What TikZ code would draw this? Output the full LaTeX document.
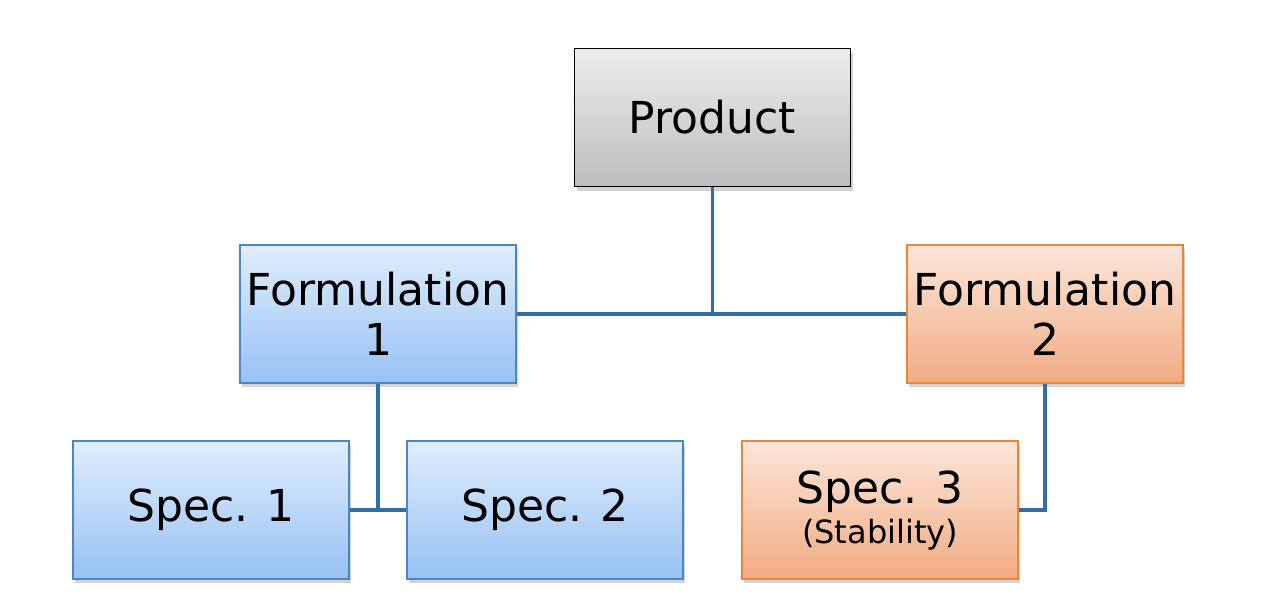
\documentclass[tikz,border=0pt]{standalone}
\usepackage{fontspec}
\setmainfont{DejaVu Sans}
\usetikzlibrary{shadows}
\definecolor{linkblue}{HTML}{2F6EA8}
\definecolor{graytop}{HTML}{EDEDED}
\definecolor{graybot}{HTML}{BDBDBD}
\definecolor{bluetop}{HTML}{E0EDFC}
\definecolor{bluebot}{HTML}{97C1F4}
\definecolor{blueedge}{HTML}{4A86C0}
\definecolor{orgtop}{HTML}{FCE6DA}
\definecolor{orgbot}{HTML}{F1AB83}
\definecolor{orgedge}{HTML}{E8873A}
\tikzset{
  x=1pt,y=-1pt,
  box/.style={minimum width=276pt,minimum height=138pt,inner sep=0pt,align=center,
    font=\fontsize{44}{50}\selectfont,
    drop shadow={shadow xshift=2pt,shadow yshift=-4pt,opacity=0.35}},
  graybox/.style={box,draw=black,line width=1.8pt,top color=graytop,bottom color=graybot},
  bluebox/.style={box,draw=blueedge,line width=1.4pt,top color=bluetop,bottom color=bluebot},
  orgbox/.style={box,draw=orgedge,line width=1.4pt,top color=orgtop,bottom color=orgbot},
  link/.style={draw=linkblue,line width=3.6pt}
}
\begin{document}
\begin{tikzpicture}
\useasboundingbox (0,0) rectangle (1261,613);
\node[graybox] (prod) at (712.5,117.5) {Product};
\node[bluebox] (f1) at (378,314) {Formulation\\1};
\node[orgbox] (f2) at (1045,314) {Formulation\\2};
\node[bluebox] (s1) at (211,510) {Spec. 1};
\node[bluebox] (s2) at (545,510) {Spec. 2};
\node[orgbox] (s3) at (880,510) {Spec. 3\\[-10pt]{\fontsize{32}{34}\selectfont (Stability)}};
\coordinate (j1) at (prod.south |- f1.east);
\coordinate (j2) at (f1.south |- s1.east);
\coordinate (j3) at (f2.south |- s3.east);
\draw[link] (f1.east) -- (f2.west);
\draw[link] (prod.south) -- (j1);
\draw[link] (s1.east) -- (s2.west);
\draw[link] (f1.south) -- (j2);
\draw[link] (f2.south) -- (j3) -- (s3.east);
\end{tikzpicture}
\end{document}
